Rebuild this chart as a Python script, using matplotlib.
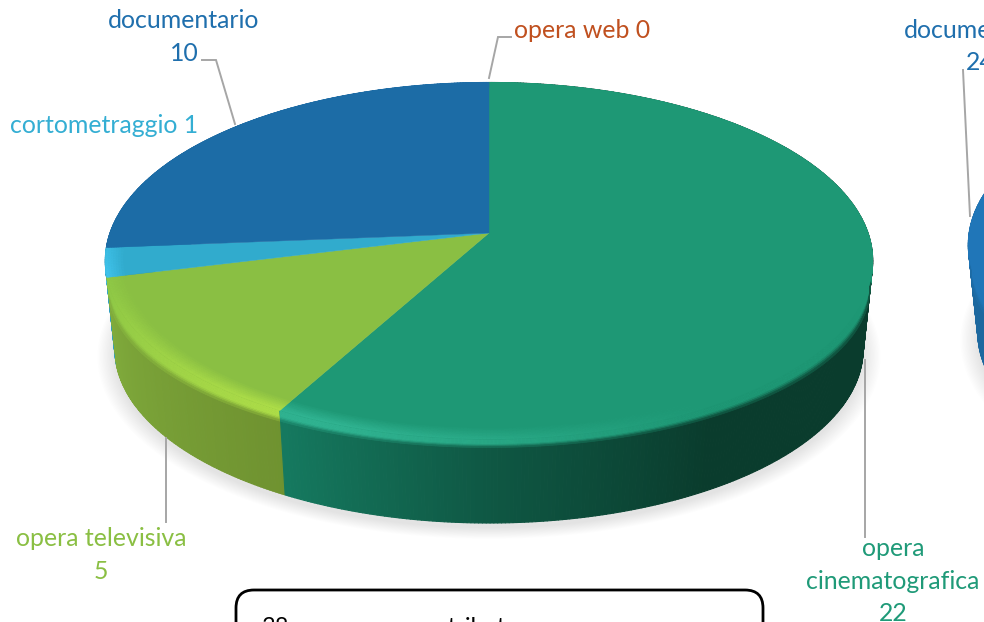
import numpy as np
import matplotlib
matplotlib.use('Agg')
import matplotlib.pyplot as plt
from matplotlib.collections import PolyCollection
from matplotlib.colors import to_rgb
from matplotlib.patches import FancyBboxPatch

labels = ['opera cinematografica', 'opera televisiva', 'cortometraggio', 'documentario', 'opera web']
values = [22, 5, 1, 10, 0]
# Only the documentario slice of the second pie is inside the picture
right_values = [24]

top_colors = ['#1e9875', '#8abf43', '#31abcd', '#1c6ca6', '#c0501f']
right_color = '#2076b8'

plt.rcParams['font.family'] = ['Lato', 'DejaVu Sans']


# Perspective view of the disc: the far half looks shorter than the near half
def project(r, theta, level, cx, cy):
    u = r * np.sin(theta)
    v = r * np.cos(theta)
    d = 1 + 0.156 * v
    s = 1 - 0.025 * level
    return cx + 379 * s * u / d, cy - 174 * s * v / d + 89 * level


def blend(c1, c2, t):
    c1, c2 = np.array(to_rgb(c1)), np.array(to_rgb(c2))
    return tuple(c1 + (c2 - c1) * np.clip(t, 0, 1))


def side_color(color, theta):
    # side gets darker going from the left of the pie to the right
    deg = np.degrees(theta) % 360
    if color == '#1e9875':
        return blend('#0a3c2d', '#15795f', np.interp(deg, [150, 180, 208], [0, 0.45, 1]))
    if color == '#8abf43':
        return blend('#6f9230', '#80ab3c', (deg - 208) / 48)
    if color == '#31abcd':
        return '#2f9fc2'
    if color == right_color:
        return '#1c689f'
    return blend('#164f7c', '#1d6aa5', deg / 270 - 0.3)


def rim_color(color, theta):
    deg = np.degrees(theta) % 360
    if color == '#1e9875':
        return blend('#1e9875', '#30b391', (deg - 150) / 50)
    if color == '#8abf43':
        # brightest next to the green slice, fading towards the left
        return blend('#8fc846', '#aede48', 1 - (deg - 208) / 45)
    if color == '#31abcd':
        return '#3fc2ea'
    return color


def strips(xa, ya, xb, yb):
    return [[(xa[i], ya[i]), (xa[i + 1], ya[i + 1]), (xb[i + 1], yb[i + 1]), (xb[i], yb[i])]
            for i in range(len(xa) - 1)]


def draw_pie(ax, vals, colors, cx, cy):
    vals = np.array(vals, dtype=float)
    edges = np.radians(np.concatenate([[0], np.cumsum(vals) / vals.sum() * 360]))

    # soft shadow under the pie
    t = np.linspace(0, 2 * np.pi, 240)
    for i in range(14):
        x, y = project(1.0 + 0.0035 * i, t, 1, cx, cy + 5)
        ax.fill(x, y, color='black', alpha=0.009, lw=0, zorder=1)

    for k, color in enumerate(colors):
        a0, a1 = edges[k], edges[k + 1]
        if a1 - a0 <= 0:
            continue
        n = max(int(np.degrees(a1 - a0) * 2), 4)
        th = np.linspace(a0, a1, n + 1)
        mid = (th[:-1] + th[1:]) / 2
        wall_z = 2 - 0.1 * k

        # outer wall as thin strips so the shading can change along it
        x0, y0 = project(1, th, 0, cx, cy)
        x1, y1 = project(1, th, 1, cx, cy)
        cols = [side_color(color, m) for m in mid]
        ax.add_collection(PolyCollection(strips(x0, y0, x1, y1), facecolors=cols, edgecolors=cols,
                                         linewidths=0.8, zorder=wall_z))

        # rounded shoulder: top colour running down onto the wall
        height = 0.1 + 0.25 * (1 - np.abs(np.cos(th)))
        steps = np.linspace(0, 1, 9)
        for j in range(len(steps) - 1):
            xa, ya = project(1, th, height * steps[j], cx, cy)
            xb, yb = project(1, th, height * steps[j + 1], cx, cy)
            w = np.clip((steps[j] - 0.55) / 0.45, 0, 1)
            cols = [blend(rim_color(color, m), side_color(color, m), w) for m in mid]
            ax.add_collection(PolyCollection(strips(xa, ya, xb, yb), facecolors=cols, edgecolors=cols,
                                             linewidths=0.5, zorder=wall_z + 0.01))

        # top face
        x, y = project(1, th, 0, cx, cy)
        if a1 - a0 < 2 * np.pi - 1e-6:
            x = np.concatenate([[cx], x])
            y = np.concatenate([[cy], y])
        ax.fill(x, y, color=color, lw=0.3, zorder=3)

        # highlight along the front edge of the top face
        rings = np.linspace(0.955, 1.0, 8)
        for j in range(len(rings) - 1):
            xa, ya = project(rings[j], th, 0, cx, cy)
            xb, yb = project(rings[j + 1], th, 0, cx, cy)
            w = (j + 1) / (len(rings) - 1)
            cols = []
            for m in mid:
                front = np.clip(-np.cos(m) * 2.5 + 0.5, 0, 1)
                cols.append(blend(color, rim_color(color, m), w * front))
            ax.add_collection(PolyCollection(strips(xa, ya, xb, yb), facecolors=cols, edgecolors=cols,
                                             linewidths=0.4, zorder=4))


fig = plt.figure(figsize=(9.84, 6.22), dpi=100)
ax = fig.add_axes([0, 0, 1, 1])
ax.set_xlim(0, 984)
ax.set_ylim(622, 0)
ax.axis('off')

draw_pie(ax, values, top_colors, 489, 233)
draw_pie(ax, right_values, [right_color], 1352, 217)

# leader lines
line_kw = dict(color='#a6a6a6', lw=1.4, zorder=5, solid_joinstyle='miter')
ax.plot([489, 498, 511], [78, 37, 37], **line_kw)
ax.plot([202, 216, 235], [60, 60, 124], **line_kw)
ax.plot([166, 166], [438, 522], **line_kw)
ax.plot([865, 865], [360, 537], **line_kw)
ax.plot([963, 970], [70, 216], **line_kw)

# data labels
fs = 17.9
ax.text(184, 20.5, labels[3], color='#1f6fad', fontsize=fs, ha='center', va='center')
ax.text(184, 53.5, f'{values[3]}', color='#1f6fad', fontsize=fs, ha='center', va='center')
ax.text(582, 30.5, f'{labels[4]} {values[4]}', color='#c0501f', fontsize=fs, ha='center', va='center')
ax.text(104, 125.5, f'{labels[2]} {values[2]}', color='#34aed3', fontsize=fs, ha='center', va='center')
ax.text(101, 538.5, labels[1], color='#8abf43', fontsize=fs, ha='center', va='center')
ax.text(101, 571.5, f'{values[1]}', color='#8abf43', fontsize=fs, ha='center', va='center')
ax.text(893, 548.5, 'opera', color='#1f9a78', fontsize=fs, ha='center', va='center', zorder=6)
ax.text(893, 581.5, 'cinematografica', color='#1f9a78', fontsize=fs, ha='center', va='center', zorder=6)
ax.text(893, 613.5, f'{values[0]}', color='#1f9a78', fontsize=fs, ha='center', va='center', zorder=6)
ax.text(980, 30.5, labels[3], color='#1f6fad', fontsize=fs, ha='center', va='center')
ax.text(980, 62.5, f'{right_values[0]}', color='#1f6fad', fontsize=fs, ha='center', va='center')

# text box cut off by the bottom of the picture
box = FancyBboxPatch((236, 590), 527, 80, boxstyle='round,pad=0,rounding_size=18',
                     fc='white', ec='black', lw=2, zorder=6)
ax.add_patch(box)
ax.text(262, 628, '38', color='black', fontsize=17, ha='left', va='center', zorder=7)
ax.text(410, 628, 'contributo', color='black', fontsize=17, ha='left', va='center', zorder=7)

fig.savefig('out.png', dpi=100)
